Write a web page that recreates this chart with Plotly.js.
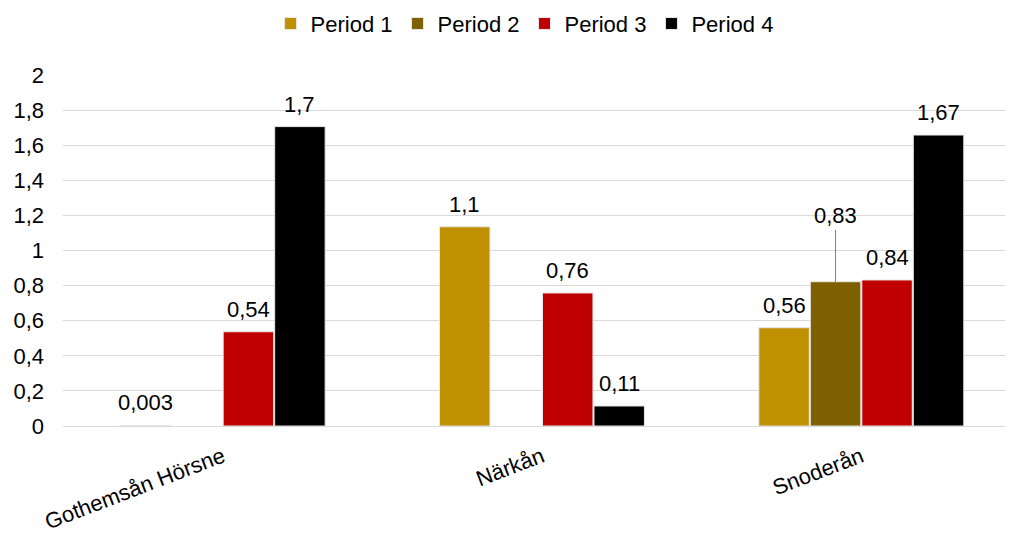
<!DOCTYPE html>
<html><head><meta charset="utf-8">
<script src="https://cdn.plot.ly/plotly-3.0.1.min.js"></script>
<style>html,body{margin:0;padding:0;background:#fff}#chart{width:1010px;height:534px}</style>
</head><body><div id="chart"></div>
<script>
const categories = ["Gothemsån Hörsne", "Närkån", "Snoderån"];
const seriesNames = ["Period 1", "Period 2", "Period 3", "Period 4"];
const period1 = [0.003, 1.135, 0.56];
const period2 = [null, null, 0.822];
const period3 = [0.537, 0.758, 0.832];
const period4 = [1.706, 0.114, 1.658];
const labels1 = ["0,003", "1,1", "0,56"];
const labels2 = ["", "", "0,83"];
const labels3 = ["0,54", "0,76", "0,84"];
const labels4 = ["1,7", "0,11", "1,67"];
const calloutSeries = 1, calloutCategory = 2; // Period 2 / Snoderån label sits on a leader line
const colors = ["#BF9000", "#7F6000", "#C00000", "#000000"];

const values = [period1, period2, period3, period4];
const texts = [labels1, labels2, labels3, labels4];
const font = "Liberation Sans, Arial, sans-serif";
const fs = 22;

const traces = values.map((v, i) => ({
  type: "bar", name: seriesNames[i], x: categories, y: v,
  marker: {color: colors[i], line: {color: "#e6e6e6", width: 1}},
  hoverinfo: "skip"
}));

const bargap = 0.355, bargroupgap = 0.02, nSeries = values.length;
const slot = (1 - bargap) / nSeries;

const annotations = [];
values.forEach((v, i) => {
  v.forEach((val, j) => {
    const t = texts[i][j];
    if (val === null || !t) return;
    const x = j + (i - (nSeries - 1) / 2) * slot;
    if (i === calloutSeries && j === calloutCategory) {
      annotations.push({x: x, xref: "x", y: val, yref: "y", text: t, showarrow: true,
        arrowhead: 0, arrowwidth: 1, arrowcolor: "#7f7f7f", ax: 0, ay: -66, standoff: 0,
        font: {family: font, size: fs, color: "#000"}});
    } else {
      annotations.push({x: x, xref: "x", y: val, yref: "y", text: t, showarrow: false,
        yanchor: "bottom", yshift: 8, font: {family: font, size: fs, color: "#000"}});
    }
  });
});

const layout = {
  width: 1010, height: 534,
  margin: {l: 63, r: 5, t: 75, b: 108},
  separators: ", ",
  barmode: "group", bargap: bargap, bargroupgap: bargroupgap,
  paper_bgcolor: "#fff", plot_bgcolor: "#fff",
  font: {family: font, size: fs, color: "#000"},
  showlegend: true,
  legend: {orientation: "h", x: 0.49, xanchor: "center", y: 0.995, yref: "container", yanchor: "top",
           font: {family: font, size: fs, color: "#000"}, itemwidth: 30, tracegroupgap: 0},
  xaxis: {type: "category", range: [-0.5, 2.45], tickangle: -21, showgrid: false, showline: false, ticks: "",
          tickfont: {family: font, size: fs, color: "#000"}, ticklabelstandoff: 13, automargin: false},
  yaxis: {range: [0, 2], dtick: 0.2, showgrid: true, gridcolor: "#d9d9d9", gridwidth: 1,
          zeroline: true, zerolinecolor: "#d9d9d9", showline: false, ticks: "",
          tickfont: {family: font, size: fs, color: "#000"}, ticklabelstandoff: 18, automargin: false},
  annotations: annotations
};

Plotly.newPlot("chart", traces, layout, {displayModeBar: false, staticPlot: true});
</script></body></html>
